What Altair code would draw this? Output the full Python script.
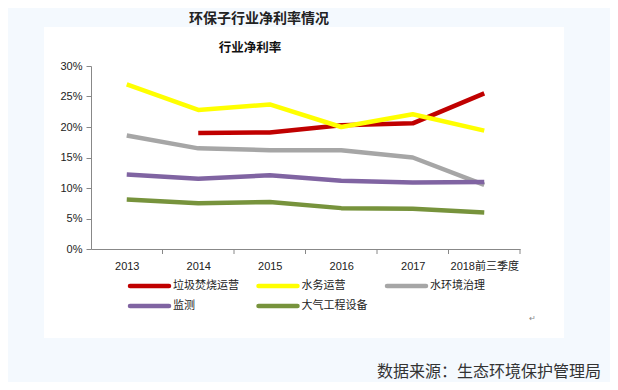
import altair as alt
import pandas as pd

# ---- data ----
years = ["2013", "2014", "2015", "2016", "2017", "2018前三季度"]
series_names = ["垃圾焚烧运营", "水务运营", "水环境治理", "监测", "大气工程设备"]
series_colors = ["#c00000", "#ffff00", "#a6a6a6", "#8064a2", "#77933c"]
waste_incineration = [None, 19.0, 19.1, 20.3, 20.6, 25.5]
water_operation = [27.0, 22.8, 23.7, 20.0, 22.1, 19.4]
water_environment = [18.6, 16.5, 16.2, 16.2, 15.0, 10.5]
monitoring = [12.2, 11.5, 12.1, 11.2, 10.9, 11.0]
air_equipment = [8.1, 7.5, 7.7, 6.7, 6.6, 6.0]
y_ticks = [0, 5, 10, 15, 20, 25, 30]

main_title = "环保子行业净利率情况"
inner_title = "行业净利率"
source_text = "数据来源：生态环境保护管理局"

values = [waste_incineration, water_operation, water_environment, monitoring, air_equipment]
rows = []
for i, (name, vals) in enumerate(zip(series_names, values)):
    for y, v in zip(years, vals):
        if v is not None:
            rows.append({"year": y, "series": name, "value": v, "order": i})
df = pd.DataFrame(rows)
tick_df = pd.DataFrame({"year": years})
legend_df = pd.DataFrame({"series": series_names, "idx": list(range(len(series_names)))})

FONT = "Liberation Sans, Noto Sans CJK SC, sans-serif"
CJK = "Noto Sans CJK SC"

W, H = 429, 183

color_scale = alt.Scale(domain=series_names, range=series_colors)

x_enc = alt.X("year:N", sort=years, title=None,
              scale=alt.Scale(paddingInner=0, paddingOuter=0),
              axis=alt.Axis(ticks=False, labelAngle=0, labelFont=FONT, labelFontSize=11,
                            labelColor="#222", labelPadding=11, domainColor="#888",
                            domainWidth=1, zindex=1))

# white card behind chart
card = alt.Chart(tick_df).mark_rect(color="white").encode(
    x=alt.value(-47), x2=alt.value(473), y=alt.value(-38.5), y2=alt.value(271.5)
)

lines = alt.Chart(df).mark_line(strokeWidth=4.5, strokeCap="butt", strokeJoin="round").encode(
    x=x_enc,
    y=alt.Y("value:Q", title=None,
            scale=alt.Scale(domain=[0, 30], nice=False),
            axis=alt.Axis(values=y_ticks, grid=False, labelExpr="datum.value + '%'",
                          labelFont=FONT, labelFontSize=11, labelColor="#222",
                          tickColor="#888", tickSize=5, domainColor="#888",
                          labelPadding=4, zindex=1)),
    color=alt.Color("series:N", sort=series_names, scale=color_scale, legend=None),
    order=alt.Order("order:Q"),
)

x_ticks = alt.Chart(tick_df).mark_rule(color="#888", strokeWidth=1).encode(
    x=alt.X("year:N", sort=years, bandPosition=1,
            scale=alt.Scale(paddingInner=0, paddingOuter=0), axis=None),
    y=alt.value(H), y2=alt.value(H + 5),
)

# legend: 3 columns grid laid out from entry index
legend_base = alt.Chart(legend_df).transform_calculate(
    col="datum.idx % 3",
    row="floor(datum.idx / 3)",
    lx="39 + datum.col * 128.5",
    lx2="39 + datum.col * 128.5 + 39",
    tx="39 + datum.col * 128.5 + 43",
    ly="220 + datum.row * 20",
)
legend_lines = legend_base.mark_rule(strokeWidth=4.5, strokeCap="round").encode(
    x=alt.X("lx:Q", scale=None, axis=None),
    x2="lx2:Q",
    y=alt.Y("ly:Q", scale=None, axis=None),
    color=alt.Color("series:N", scale=color_scale, legend=None),
)
legend_text = legend_base.mark_text(
    font=CJK, fontSize=11, color="#222", align="left", baseline="middle"
).encode(
    x=alt.X("tx:Q", scale=None, axis=None),
    y=alt.Y("ly:Q", scale=None, axis=None),
    text="series:N",
)

t_main = alt.Chart(pd.DataFrame({"t": [main_title]})).mark_text(
    font=CJK, fontSize=14, fontWeight="bold", color="#222", align="center", baseline="middle"
).encode(text="t:N", x=alt.value(168), y=alt.value(-47))

t_inner = alt.Chart(pd.DataFrame({"t": [inner_title]})).mark_text(
    font=CJK, fontSize=12.5, fontWeight="bold", color="#111", align="center", baseline="middle"
).encode(text="t:N", x=alt.value(159), y=alt.value(-18.5))

t_source = alt.Chart(pd.DataFrame({"t": [source_text]})).mark_text(
    font=CJK, fontSize=16, color="#333", align="left", baseline="middle"
).encode(text="t:N", x=alt.value(286), y=alt.value(306))

t_mark = alt.Chart(pd.DataFrame({"t": ["↵"]})).mark_text(
    font=CJK, fontSize=8, color="#888", align="center", baseline="middle"
).encode(text="t:N", x=alt.value(441), y=alt.value(252.5))

chart = alt.layer(card, x_ticks, lines, legend_lines, legend_text,
                  t_main, t_inner, t_source, t_mark).resolve_scale(
    x="independent", y="independent"
).properties(
    width=W, height=H,
    padding={"left": 83, "top": 58, "right": 90, "bottom": 133},
    autosize=alt.AutoSizeParams(type="none"),
    background="#f4f9fe",
).configure_view(stroke=None)

chart.save("out.html", embed_options={"renderer": "svg", "actions": False})
